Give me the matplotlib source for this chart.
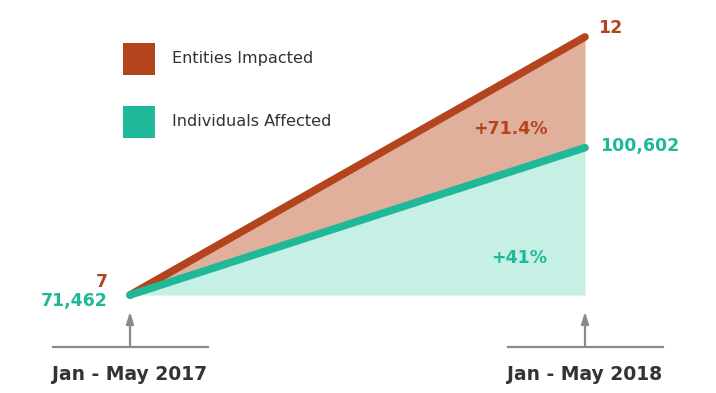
import matplotlib
matplotlib.use("Agg")
import matplotlib.pyplot as plt
from matplotlib.patches import Rectangle
import numpy as np

periods = ["Jan - May 2017", "Jan - May 2018"]
entities = [7, 12]
individuals = [71462, 100602]
series_names = ["Entities Impacted", "Individuals Affected"]

RED = "#b4441e"
RED_FILL = "#e0b09c"
TEAL = "#1fb899"
TEAL_FILL = "#c6efe6"
GRAY = "#8a8a8a"
DARK = "#333333"
FONT = "DejaVu Sans"

x = np.arange(len(periods))
ent_pct = (np.array(entities) / entities[0] - 1) * 100
ind_pct = (np.array(individuals) / individuals[0] - 1) * 100

fig = plt.figure(figsize=(7.16, 3.93), dpi=100)
ax = fig.add_axes([0, 0, 1, 1])
ax.set_xlim(-130 / 455, 586 / 455)
ax.set_ylim(-98 / 3.613, 295 / 3.613)
ax.axis("off")

ax.fill_between(x, 0, ind_pct, color=TEAL_FILL, lw=0)
ax.fill_between(x, ind_pct, ent_pct, color=RED_FILL, lw=0)
ax.plot(x, ent_pct, color=RED, lw=5.5, solid_capstyle="round", zorder=3)
ax.plot(x, ind_pct, color=TEAL, lw=5.5, solid_capstyle="round", zorder=4)

NUM = dict(fontsize=12.5, fontweight="bold", family=FONT)

# end labels
ax.annotate(f"{entities[0]:,}", (x[0], ent_pct[0]), xytext=(-22, 13), textcoords="offset pixels",
            ha="right", va="center", color=RED, **NUM)
ax.annotate(f"{individuals[0]:,}", (x[0], ind_pct[0]), xytext=(-22, -6), textcoords="offset pixels",
            ha="right", va="center", color=TEAL, **NUM)
ax.annotate(f"{entities[1]:,}", (x[1], ent_pct[1]), xytext=(13, 9), textcoords="offset pixels",
            ha="left", va="center", color=RED, **NUM)
ax.annotate(f"{individuals[1]:,}", (x[1], ind_pct[1]), xytext=(15, 2), textcoords="offset pixels",
            ha="left", va="center", color=TEAL, **NUM)

# percent labels
xp = 0.835
ax.text(xp, (np.interp(xp, x, ent_pct) + np.interp(xp, x, ind_pct)) / 2 - 1, f"+{ent_pct[1]:.1f}%",
        ha="center", va="center", color=RED, **NUM)
ax.text(0.855, ind_pct[1] * 0.25, f"+{ind_pct[1]:.0f}%",
        ha="center", va="center", color=TEAL, **NUM)

# period axes markers
for xi, lab in zip(x, periods):
    ax.plot([xi - 0.169, xi + 0.171], [-14.4, -14.4], color=GRAY, lw=1.6)
    ax.annotate("", xy=(xi, -4.6), xytext=(xi, -14.4),
                arrowprops=dict(arrowstyle="-|>,head_width=0.22,head_length=0.7", color=GRAY, lw=1.6,
                                shrinkA=0, shrinkB=0))
    ax.text(xi, -21.9, lab, ha="center", va="center", color=DARK, fontsize=13.5,
            fontweight="bold", family=FONT)

# legend
H = 393.0
W = 716.0
for i, (name, col) in enumerate(zip(series_names, [RED, TEAL])):
    top = 43 + i * 63
    fig.patches.append(Rectangle((123 / W, 1 - (top + 32) / H), 32 / W, 32 / H,
                                 transform=fig.transFigure, color=col, lw=0))
    fig.text(172 / W, 1 - (top + 16) / H, name, ha="left", va="center", color=DARK,
             fontsize=11.6, family=FONT)

fig.savefig("out.png", dpi=100)
